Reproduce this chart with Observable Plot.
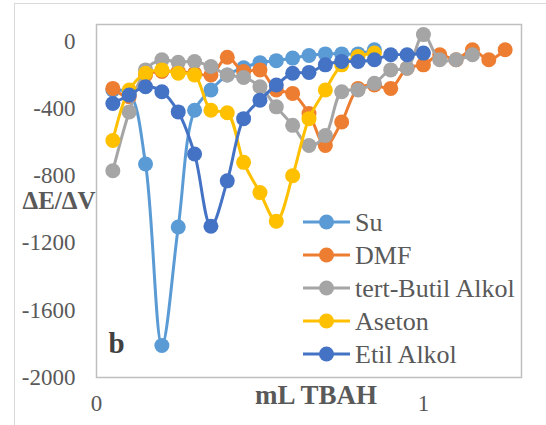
<!DOCTYPE html>
<html><head><meta charset="utf-8">
<script src="https://cdn.jsdelivr.net/npm/d3@7"></script>
<script src="https://cdn.jsdelivr.net/npm/@observablehq/plot@0.6"></script>
<style>
body{margin:0;background:#fff;}
#wrap{position:relative;width:546px;height:425px;overflow:hidden;background:#fff}
#border{position:absolute;left:14px;top:3px;width:600px;height:600px;border:1px solid #D9D9D9;}
#chart{position:absolute;left:0;top:0}
</style></head><body>
<div id="wrap"><div id="border"></div><div id="chart"></div></div>
<script>
const mL = [0.05,0.10,0.15,0.20,0.25,0.30,0.35,0.40,0.45,0.50,0.55,0.60,0.65,0.70,0.75,0.80,0.85,0.90,0.95,1.00,1.05,1.10,1.15,1.20,1.25];
const su = [-290,-310,-730,-1810,-1105,-410,-290,-200,-157,-127,-115,-100,-84,-75,-75,-75,-50];
const dmf = [-280,-330,-200,-180,-180,-190,-200,-95,-180,-170,-290,-310,-430,-620,-480,-280,-260,-280,-160,-140,-80,-110,-50,-110,-50];
const tertButil = [-770,-420,-170,-110,-125,-120,-150,-200,-215,-270,-390,-500,-620,-560,-300,-290,-250,-170,-160,40,-110,-110,-80];
const aseton = [-590,-290,-190,-170,-190,-200,-410,-425,-720,-900,-1070,-800,-460,-290,-140,-90,-70];
const etilAlkol = [-370,-320,-270,-300,-420,-670,-1100,-830,-460,-350,-260,-190,-185,-140,-120,-120,-110,-80,-80,-70];

const seriesNames = ["Su","DMF","tert-Butil Alkol","Aseton","Etil Alkol"];
const seriesColors = ["#5B9BD5","#ED7D31","#A5A5A5","#FFC000","#4472C4"];
const seriesValues = [su, dmf, tertButil, aseton, etilAlkol];
const yTicks = [0,-400,-800,-1200,-1600,-2000];
const xTicks = [0,1];
const yLabel = "ΔE/ΔV";
const xLabel = "mL TBAH";
const panelLabel = "b";

const marks = [Plot.frame({stroke:"#BFBFBF", strokeWidth:1.5})];
seriesValues.forEach((vals,i)=>{
  const data = vals.map((v,j)=>({x:mL[j], y:v}));
  marks.push(Plot.line(data,{x:"x",y:"y",stroke:seriesColors[i],strokeWidth:3,curve:"catmull-rom"}));
  marks.push(Plot.dot(data,{x:"x",y:"y",fill:seriesColors[i],r:7.5}));
});
marks.push(Plot.axisY(yTicks,{tickSize:0,tickPadding:21,fontSize:23,label:null,tickFormat:d=>String(d)}));
marks.push(Plot.axisX(xTicks,{tickSize:0,tickPadding:17,fontSize:23,label:null,tickFormat:d=>String(d)}));
marks.push(Plot.text([yLabel],{text:d=>d,frameAnchor:"left",dx:-74,textAnchor:"start",fontSize:25,fontWeight:"bold"}));
marks.push(Plot.text([xLabel],{text:d=>d,frameAnchor:"bottom",dx:7,dy:26,fontSize:27,fontWeight:"bold"}));
marks.push(Plot.text([panelLabel],{text:d=>d,frameAnchor:"bottom-left",dx:12,dy:-25,textAnchor:"start",fontSize:29,fontWeight:"bold",fill:"#404040"}));

const chart = Plot.plot({
  width:546, height:425,
  marginLeft:96, marginRight:25, marginTop:24, marginBottom:48,
  x:{domain:[0,1.3], axis:null},
  y:{domain:[-2000,100], axis:null},
  style:{fontFamily:"'Liberation Serif','Times New Roman',serif", color:"#595959", background:"transparent", overflow:"visible"},
  marks
});

// legend inside the plot area
const svg = d3.select(chart);
const lg = svg.append("g");
seriesNames.forEach((name,i)=>{
  const cy = 222 + i*33;
  const g = lg.append("g").attr("transform",`translate(303,${cy})`);
  g.append("line").attr("x1",0).attr("x2",47).attr("stroke",seriesColors[i]).attr("stroke-width",3);
  g.append("circle").attr("cx",23.5).attr("r",7.5).attr("fill",seriesColors[i]);
  g.append("text").attr("x",52).attr("dy","0.35em").attr("text-anchor","start").attr("font-size",26).attr("fill","#595959").text(name);
});
document.getElementById("chart").appendChild(chart);
</script>
</body></html>
